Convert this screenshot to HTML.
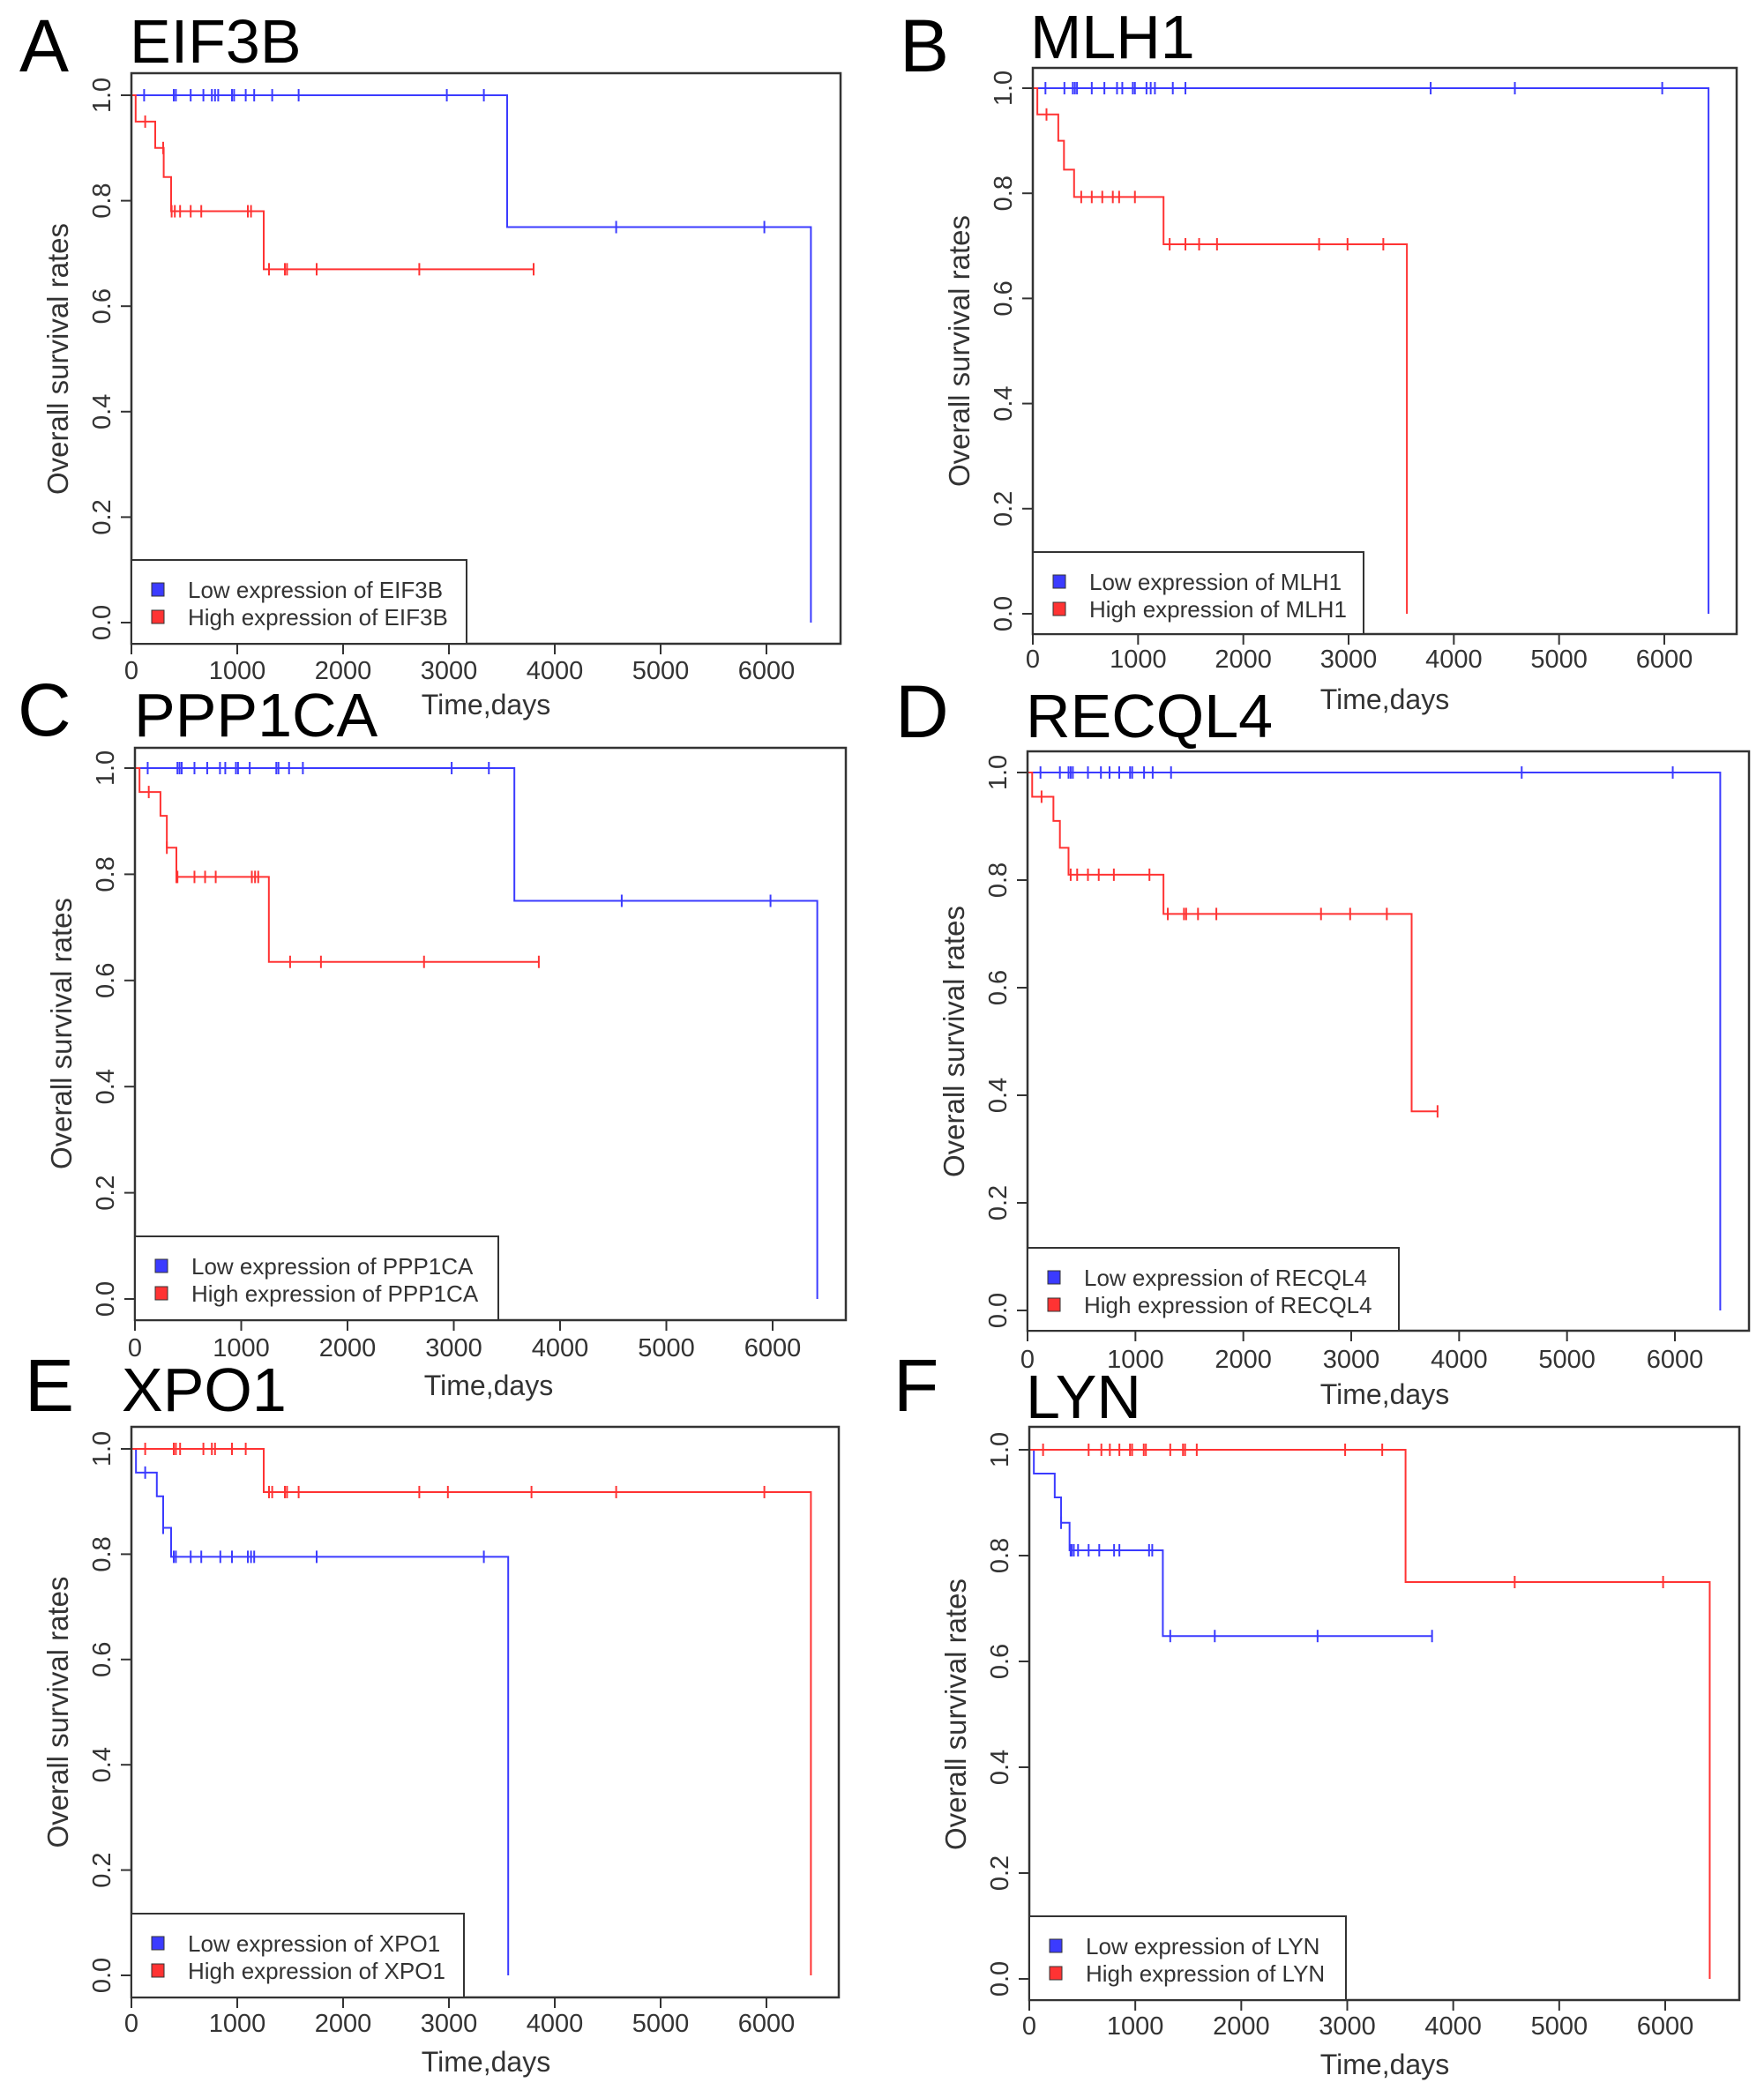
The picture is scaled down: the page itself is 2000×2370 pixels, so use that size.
<!DOCTYPE html>
<html><head><meta charset="utf-8">
<style>
html,body{margin:0;padding:0;background:#fff;}
svg{display:block;font-family:"Liberation Sans",Arial,sans-serif;}
</style></head>
<body>
<svg id="fig" width="2000" height="2370" viewBox="0 0 2000 2370" xmlns="http://www.w3.org/2000/svg"></svg>
<script>
// ---- data (days, survival) ----
const xTicks = [0,1000,2000,3000,4000,5000,6000];
const yTicks = [0,0.2,0.4,0.6,0.8,1.0];
const yTickLabels = ["0.0","0.2","0.4","0.6","0.8","1.0"];

const A_lowT = [3550,6420];           const A_lowS = [0.75,0];
const A_lowCens = [0,120,400,420,560,680,760,790,820,950,970,1080,1160,1330,1580,2980,3330,4580,5980];
const A_lowEnd = 6420;
const A_highT = [40,225,305,375,1250]; const A_highS = [0.95,0.90,0.845,0.78,0.67];
const A_highCens = [130,300,380,410,460,560,660,1100,1130,1300,1450,1470,1750,2720,3800];
const A_highEnd = 3800;

const B_lowT = [6420];                const B_lowS = [0];
const B_lowCens = [120,300,380,400,420,560,680,800,850,950,970,1080,1120,1160,1330,1450,3780,4580,5980];
const B_lowEnd = 6420;
const B_highT = [43,242,296,392,1242,3554]; const B_highS = [0.95,0.90,0.845,0.793,0.703,0];
const B_highCens = [130,460,560,660,760,820,970,1300,1450,1580,1750,2720,2990,3330];
const B_highEnd = 3554;

const C_lowT = [3570,6420];           const C_lowS = [0.75,0];
const C_lowCens = [0,120,400,420,440,560,680,800,850,950,970,1080,1330,1350,1450,1580,2980,3330,4580,5980];
const C_lowEnd = 6420;
const C_highT = [43,240,300,390,1260]; const C_highS = [0.955,0.91,0.85,0.795,0.635];
const C_highCens = [130,300,390,400,560,660,760,1100,1130,1160,1460,1750,2720,3800];
const C_highEnd = 3800;

const D_lowT = [6420];                const D_lowS = [0];
const D_lowCens = [120,300,380,400,420,560,680,760,850,950,970,1080,1160,1330,4580,5980];
const D_lowEnd = 6420;
const D_highT = [43,240,300,380,1260,3560]; const D_highS = [0.955,0.91,0.86,0.81,0.737,0.37];
const D_highCens = [130,400,460,560,660,800,1130,1300,1450,1470,1580,1750,2720,2990,3330,3800];
const D_highEnd = 3800;

const E_lowT = [43,240,300,375,3560]; const E_lowS = [0.955,0.91,0.85,0.795,0];
const E_lowCens = [130,300,400,420,560,660,840,950,1100,1130,1160,1750,3330];
const E_lowEnd = 3560;
const E_highT = [1250,6420];          const E_highS = [0.918,0];
const E_highCens = [0,130,400,420,460,680,760,790,950,1080,1300,1330,1450,1470,1580,2720,2990,3780,4580,5980];
const E_highEnd = 6420;

const F_lowT = [43,240,300,380,1260]; const F_lowS = [0.955,0.91,0.862,0.81,0.648];
const F_lowCens = [300,390,400,420,460,560,660,800,850,1130,1160,1330,1750,2720,3800];
const F_lowEnd = 3800;
const F_highT = [3550,6420];          const F_highS = [0.75,0];
const F_highCens = [0,130,560,680,760,850,950,970,1080,1100,1330,1450,1470,1580,2980,3330,4580,5980];
const F_highEnd = 6420;

// ---- layout ----
const panels = [
 {id:'a',letter:'A',gene:'EIF3B',bx:149,by:83,bw:804,bh:647,x0:149,x6:869,y1:108,y0:706,lw:380,lh:95,lx:22,lby:81,tx:147,tby:71,tickY:770,tdx:551,tdy:810,
  low:[A_lowT,A_lowS,A_lowCens,A_lowEnd],high:[A_highT,A_highS,A_highCens,A_highEnd]},
 {id:'b',letter:'B',gene:'MLH1',bx:1171,by:77,bw:798,bh:642,x0:1171,x6:1887,y1:100,y0:696,lw:375,lh:93,lx:1020,lby:81,tx:1168,tby:66,tickY:757,tdx:1570,tdy:804,
  low:[B_lowT,B_lowS,B_lowCens,B_lowEnd],high:[B_highT,B_highS,B_highCens,B_highEnd]},
 {id:'c',letter:'C',gene:'PPP1CA',bx:153,by:848,bw:806,bh:649,x0:153,x6:876,y1:871,y0:1473,lw:412,lh:95,lx:20,lby:834,tx:152,tby:835,tickY:1538,tdx:554,tdy:1582,
  low:[C_lowT,C_lowS,C_lowCens,C_lowEnd],high:[C_highT,C_highS,C_highCens,C_highEnd]},
 {id:'d',letter:'D',gene:'RECQL4',bx:1165,by:852,bw:818,bh:657,x0:1165,x6:1899,y1:876,y0:1486,lw:421,lh:94,lx:1015,lby:836,tx:1163,tby:836,tickY:1551,tdx:1570,tdy:1592,
  low:[D_lowT,D_lowS,D_lowCens,D_lowEnd],high:[D_highT,D_highS,D_highCens,D_highEnd]},
 {id:'e',letter:'E',gene:'XPO1',bx:149,by:1618,bw:802,bh:647,x0:149,x6:869,y1:1643,y0:2240,lw:377,lh:95,lx:28,lby:1600,tx:138,tby:1600,tickY:2304,tdx:551,tdy:2349,
  low:[E_lowT,E_lowS,E_lowCens,E_lowEnd],high:[E_highT,E_highS,E_highCens,E_highEnd]},
 {id:'f',letter:'F',gene:'LYN',bx:1167,by:1618,bw:805,bh:650,x0:1167,x6:1888,y1:1644,y0:2244,lw:359,lh:95,lx:1013,lby:1600,tx:1163,tby:1608,tickY:2307,tdx:1570,tdy:2352,
  low:[F_lowT,F_lowS,F_lowCens,F_lowEnd],high:[F_highT,F_highS,F_highCens,F_highEnd]}
];
const BLUE='#3b3bff', RED='#ff3333', AX='#333';
const NS='http://www.w3.org/2000/svg';
const svg=document.getElementById('fig');
function mk(tag,attrs,parent){const e=document.createElementNS(NS,tag);for(const k in attrs)e.setAttribute(k,attrs[k]);parent.appendChild(e);return e;}
function survAt(T,S,t){let s=1;for(let i=0;i<T.length;i++){if(T[i]<=t)s=S[i];}return s;}

panels.forEach(p=>{
  const g=mk('g',{},svg);
  
  
  const X=t=>p.x0+(p.x6-p.x0)*t/6000;
  const Y=s=>p.y0-(p.y0-p.y1)*s;
  const L=mk('text',{x:p.lx,y:p.lby,'font-size':84,fill:'#000'},g);L.textContent=p.letter;
  
  
  const T=mk('text',{x:p.tx,y:p.tby,'font-size':70,fill:'#000'},g);T.textContent=p.gene;
  
  
  // curves
  [['low',BLUE],['high',RED]].forEach(([k,col])=>{
    const [ET,ES,CS,END]=p[k];
    let d='M'+X(0)+','+Y(1); let s=1;
    for(let i=0;i<ET.length;i++){d+=' H'+X(ET[i])+' V'+Y(ES[i]);s=ES[i];}
    if(END>ET[ET.length-1]) d+=' H'+X(END);
    const path=mk('path',{d:d,fill:'none',stroke:col,'stroke-width':2},g);
    
    
    CS.forEach(c=>{
      const yy=Y(survAt(ET,ES,c));
      const tk=mk('line',{x1:X(c),x2:X(c),y1:yy-7,y2:yy+7,stroke:col,'stroke-width':2},g);
      
      
    });
  });
  // box
  const box=mk('rect',{x:p.bx,y:p.by,width:p.bw,height:p.bh,fill:'none',stroke:AX,'stroke-width':2.5},g);
  
  
  // x ticks
  xTicks.forEach(t=>{
    mk('line',{x1:X(t),x2:X(t),y1:p.by+p.bh,y2:p.by+p.bh+12,stroke:AX,'stroke-width':2},g);
    const tl=mk('text',{x:X(t),y:p.tickY,'font-size':29,fill:'#333','text-anchor':'middle'},g);tl.textContent=t;
    
    
  });
  yTicks.forEach((v,i)=>{
    mk('line',{x1:p.bx-12,x2:p.bx,y1:Y(v),y2:Y(v),stroke:AX,'stroke-width':2},g);
    const cx=p.bx-34;
    const tl=mk('text',{x:cx+10,y:Y(v),'font-size':29,fill:'#333','text-anchor':'middle',transform:'rotate(-90 '+(cx+10)+' '+Y(v)+')'},g);
    tl.textContent=yTickLabels[i];
    
    
  });
  const ylx=p.bx-72, yly=(p.y0+p.y1)/2;
  const yl=mk('text',{x:ylx,y:yly,'font-size':33,fill:'#333','text-anchor':'middle',transform:'rotate(-90 '+ylx+' '+yly+')'},g);
  yl.textContent='Overall survival rates';
  
  
  const xl=mk('text',{x:p.tdx,y:p.tdy,'font-size':32,fill:'#333','text-anchor':'middle'},g);
  xl.textContent='Time,days';
  
  
  // legend
  const ly=p.by+p.bh-p.lh;
  const lg=mk('g',{},g);
  
  
  mk('rect',{x:p.bx,y:ly,width:p.lw,height:p.lh,fill:'#fff',stroke:AX,'stroke-width':2},lg);
  [['Low expression of ',BLUE,34],['High expression of ',RED,65]].forEach(([lab,col,off])=>{
    mk('rect',{x:p.bx+23,y:ly+off-8,width:14,height:15,fill:col,stroke:'#333','stroke-width':1},lg);
    const t=mk('text',{x:p.bx+64,y:ly+off+9,'font-size':26,fill:'#333'},lg);
    t.textContent=lab+p.gene;
    
    
  });
});
</script>
</body></html>
